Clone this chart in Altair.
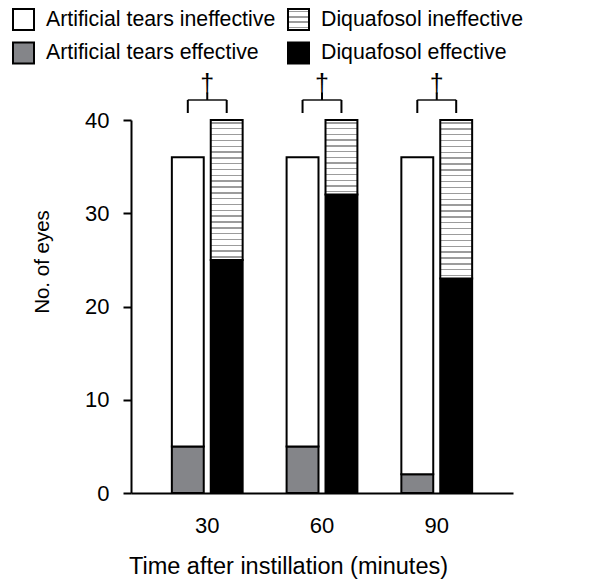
import altair as alt
import pandas as pd

# ---- data ----
times = ["30", "60", "90"]
at_total = [36, 36, 36]
at_effective = [5, 5, 2]
dq_total = [40, 40, 40]
dq_effective = [25, 32, 23]

# legend entries (column-major: first column, then second column)
legend_order = [
    "Artificial tears ineffective",
    "Artificial tears effective",
    "Diquafosol ineffective",
    "Diquafosol effective",
]
AT_EFF, AT_INEFF = legend_order[1], legend_order[0]
DQ_EFF, DQ_INEFF = legend_order[3], legend_order[2]
groups = ["Artificial tears", "Diquafosol"]

sig_marks = ["†", "†", "†"]
bracket_y = [42.15, 42.15, 42.15]
leg_bottom_y = [40.75, 40.75, 40.75]
stem_top_y = [42.95, 42.95, 42.95]
dagger_y = [43.05, 43.05, 43.05]

# ---- layout / style ----
W, H = 382, 373
YMAX = 40
PX_PER_UNIT = H / YMAX
FONT = "Liberation Sans"
GRAY = "#848589"
STRIPE = "#9c9c9c"


def stripe_stops(height_px, spacing=5.8, thick=1.4):
    n = max(1, round(height_px / spacing))
    stops = [{"offset": 0, "color": "white"}]
    half = thick / 2 / height_px
    for k in range(n):
        c = (k + 0.5) / n
        a, b = max(0, c - half), min(1, c + half)
        stops += [
            {"offset": a, "color": "white"},
            {"offset": a, "color": STRIPE},
            {"offset": b, "color": STRIPE},
            {"offset": b, "color": "white"},
        ]
    stops.append({"offset": 1, "color": "white"})
    return stops


def gradient(height_px):
    return {"gradient": "linear", "x1": 0, "y1": 0, "x2": 0, "y2": 1,
            "stops": stripe_stops(height_px)}


def gradient_expr(height_px):
    parts = ",".join(
        "{offset:%.5f,color:'%s'}" % (s["offset"], s["color"]) for s in stripe_stops(height_px)
    )
    return "{gradient:'linear',x1:0,y1:0,x2:0,y2:1,stops:[%s]}" % parts


rows = []
for i, t in enumerate(times):
    rows.append(dict(time=t, group=groups[0], status=AT_EFF, lo=0, hi=at_effective[i]))
    rows.append(dict(time=t, group=groups[0], status=AT_INEFF, lo=at_effective[i], hi=at_total[i]))
    rows.append(dict(time=t, group=groups[1], status=DQ_EFF, lo=0, hi=dq_effective[i]))
    rows.append(dict(time=t, group=groups[1], status=DQ_INEFF, lo=dq_effective[i], hi=dq_total[i]))
df = pd.DataFrame(rows)

ann = pd.DataFrame(dict(time=times, mark=sig_marks, bracket=bracket_y,
                        leg=leg_bottom_y, stem=stem_top_y, ty=dagger_y))

x_enc = alt.X(
    "time:N", sort=times,
    scale=alt.Scale(paddingInner=0.383, paddingOuter=0.356),
    axis=alt.Axis(
        title="Time after instillation (minutes)", labelAngle=0, ticks=False,
        domainColor="black", domainWidth=2,
        labelFont=FONT, labelFontSize=22, labelColor="black",
        labelPadding=22, labelBaseline="top",
        titleFont=FONT, titleFontSize=23.5, titleFontWeight="normal", titleColor="black",
        titleX=157, titleY=80, titleBaseline="alphabetic", titleAlign="center",
    ),
)
xo_enc = alt.XOffset("group:N", sort=groups,
                     scale=alt.Scale(domain=groups, paddingInner=0.18, paddingOuter=0))
y_scale = alt.Scale(domain=[0, YMAX], nice=False)
y_enc = alt.Y(
    "lo:Q", scale=y_scale,
    axis=alt.Axis(
        title="No. of eyes", values=[0, 10, 20, 30, 40], grid=False,
        tickSize=8, tickWidth=2, tickColor="black",
        domainColor="black", domainWidth=2,
        labelFont=FONT, labelFontSize=22, labelColor="black", labelPadding=14,
        titleFont=FONT, titleFontSize=20.5, titleFontWeight="normal", titleColor="black",
        titleAngle=270, titleX=-83, titleY=141.5, titleBaseline="alphabetic", titleAlign="center",
    ),
)

legend_range = ["white", GRAY, alt.ExprRef(expr=gradient_expr(21)), "black"]

bars = alt.Chart(df).transform_filter(
    alt.datum.status != DQ_INEFF
).mark_bar(stroke="black", strokeWidth=2).encode(
    x=x_enc, xOffset=xo_enc, y=y_enc, y2="hi:Q",
    fill=alt.Fill(
        "status:N",
        scale=alt.Scale(domain=legend_order, range=legend_range),
        legend=alt.Legend(
            title=None, orient="none", legendX=-119, legendY=-112,
            columns=2, symbolType="square", symbolSize=441,
            symbolStrokeColor="black", symbolStrokeWidth=2, symbolOpacity=1,
            labelFont=FONT, labelFontSize=21.3, labelColor="black", labelLimit=0,
            labelOffset=11, columnPadding=8, rowPadding=4.5, padding=0, offset=0,
        ),
    ),
)

hatched = []
for i, t in enumerate(times):
    h_px = (dq_total[i] - dq_effective[i]) * PX_PER_UNIT
    hatched.append(
        alt.Chart(df).transform_filter(
            (alt.datum.status == DQ_INEFF) & (alt.datum.time == t)
        ).mark_bar(fill=gradient(h_px), stroke="black", strokeWidth=2).encode(
            x=x_enc, xOffset=xo_enc, y=y_enc, y2="hi:Q"
        )
    )

base_ann = alt.Chart(ann)
ax = alt.X("time:N", sort=times)
bracket_top = base_ann.mark_tick(size=38.9, thickness=2, color="black").encode(
    x=ax, y=alt.Y("bracket:Q", scale=y_scale))
leg_left = base_ann.mark_rule(xOffset=-19.45, strokeWidth=2, color="black").encode(
    x=ax, y=alt.Y("leg:Q", scale=y_scale), y2="bracket:Q")
leg_right = base_ann.mark_rule(xOffset=19.45, strokeWidth=2, color="black").encode(
    x=ax, y=alt.Y("leg:Q", scale=y_scale), y2="bracket:Q")
stem = base_ann.mark_rule(strokeWidth=2, color="black").encode(
    x=ax, y=alt.Y("bracket:Q", scale=y_scale), y2="stem:Q")
dagger = base_ann.mark_text(font=FONT, fontSize=25, baseline="alphabetic",
                            align="center", color="black").encode(
    x=ax, y=alt.Y("ty:Q", scale=y_scale), text="mark:N")

chart = alt.layer(bars, *hatched, bracket_top, leg_left, leg_right, stem, dagger).properties(
    width=W, height=H,
    autosize=alt.AutoSizeParams(type="none"),
    padding={"left": 123, "top": 112, "right": 70, "bottom": 88},
).configure_view(stroke=None).configure_axis(grid=False)

chart.save("out.html", embed_options={"renderer": "svg", "actions": False})
